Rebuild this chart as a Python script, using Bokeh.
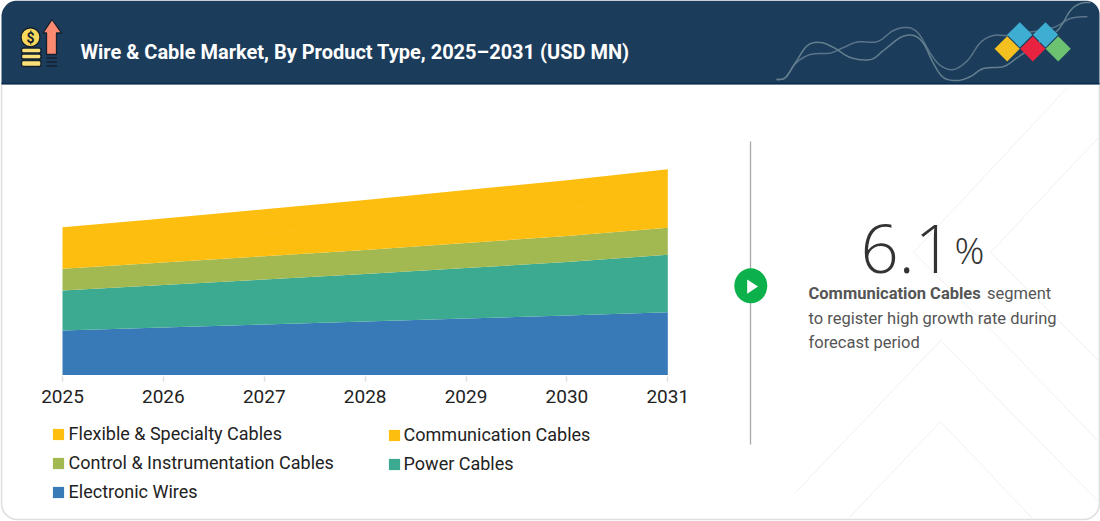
import numpy as np
from bokeh.core.properties import value
from bokeh.embed import file_html
from bokeh.models import Legend, LegendItem, LinearAxis, FixedTicker, Range1d
from bokeh.plotting import figure
from bokeh.resources import INLINE

# ---- data (USD MN, scale estimated) ----
years = [2025, 2026, 2027, 2028, 2029, 2030, 2031]
electronic_wires = [44.5, 47.5, 50.5, 53.5, 56.5, 59.5, 62.8]
power_cables = [40.0, 42.5, 45.0, 47.5, 50.5, 53.5, 57.4]
control_instrumentation = [21.7, 22.5, 23.3, 24.0, 25.0, 26.0, 27.0]
communication_cables = [20.0, 21.5, 23.0, 24.5, 26.0, 27.3, 28.6]
flexible_specialty = [21.6, 22.5, 24.0, 25.5, 27.0, 28.5, 30.0]
series_names = ["Electronic Wires", "Power Cables", "Control & Instrumentation Cables",
                "Communication Cables", "Flexible & Specialty Cables"]
series_colors = ["#3879B8", "#3BAA91", "#A1B950", "#FDBE10", "#FDBE10"]
title_text = "Wire & Cable Market, By Product Type, 2025–2031 (USD MN)"
cagr_value = "6.1"
cagr_unit = "%"
caption_bold = "Communication Cables"
caption_lines = [" segment", "to register high growth rate during", "forecast period"]

W, H = 1100, 521
FONT = "Roboto"
X0, X1 = 62.0, 667.3      # pixel columns of the first and last year
BASE = 374.5              # pixel row of the value axis zero
ppy = (X1 - X0) / (years[-1] - years[0])

p = figure(width=W, height=H, output_backend="svg", toolbar_location=None,
           x_axis_type=None, y_axis_type=None, min_border=0,
           x_range=Range1d(years[0] - X0 / ppy, years[0] + (W - X0) / ppy),
           y_range=Range1d(BASE - H, BASE))
p.outline_line_color = None
p.grid.visible = False
p.background_fill_color = "white"
p.border_fill_color = "white"
p.extra_x_ranges = {"px": Range1d(0, W)}
p.extra_y_ranges = {"px": Range1d(H, 0)}
PX = dict(x_range_name="px", y_range_name="px")


def arc(cx, cy, r, a0, a1, n=14):
    t = np.radians(np.linspace(a0, a1, n))
    return list(cx + r * np.cos(t)), list(cy + r * np.sin(t))


def smooth(pts, n=12):
    a = np.array([pts[0]] + pts + [pts[-1]], dtype=float)
    out = []
    for i in range(1, len(a) - 2):
        for t in np.linspace(0, 1, n, endpoint=False):
            out.append(0.5 * (2 * a[i] + (a[i + 1] - a[i - 1]) * t
                              + (2 * a[i - 1] - 5 * a[i] + 4 * a[i + 1] - a[i + 2]) * t ** 2
                              + (3 * a[i] - a[i - 1] - 3 * a[i + 1] + a[i + 2]) * t ** 3))
    out.append(a[-2])
    out = np.array(out)
    return list(out[:, 0]), list(out[:, 1])


def text(x, y, s, size, color, style="normal", font=FONT, align="left", baseline="alphabetic"):
    p.text([x], [y], text=[s], text_font=value(font), text_font_size=f"{size}px", text_color=color,
           text_font_style=style, text_align=align, text_baseline=baseline, **PX)


# card outline
ax1, ay1 = arc(1099 - 16, 519 - 16, 16, 0, 90)
ax2, ay2 = arc(1 + 16, 519 - 16, 16, 90, 180)
p.line([1099] + ax1 + ax2 + [1], [84] + ay1 + ay2 + [84],
       line_color="#DEDEDE", line_width=1.6, **PX)

# faint background chevrons
for xs, ys in [([1067, 913, 997, 1097], [87, 252, 336, 440]),
               ([1098, 990, 1073, 1098], [137, 252, 335, 360]),
               ([795, 940, 1097], [492, 340, 500]),
               ([848, 940, 1032], [518, 421, 518])]:
    p.line(xs, ys, line_color="#F0F0F0", line_width=1, **PX)

# header band
hx1, hy1 = arc(1 + 16, 16, 16, 180, 270)
hx2, hy2 = arc(1099 - 14, 14, 14, 270, 360)
p.patch([1] + hx1 + hx2 + [1099], [84] + hy1 + hy2 + [84], fill_color="#1C3C5C", line_color=None, **PX)
p.line([1, 1099], [83, 83], line_color="#0E2C4E", line_width=1.6, **PX)

# header wave decoration
wave_a = [(776, 79), (785, 77), (795, 63), (807, 55), (818, 53), (830, 52.5), (843, 47), (857, 41.5),
          (877, 41), (893, 30), (907, 27), (918, 33), (930, 53), (940, 65), (953, 69), (967, 60),
          (980, 42), (993, 35), (1007, 35), (1027, 32), (1053, 27), (1070, 18), (1087, 16)]
wave_b = [(776, 79), (785, 77), (795, 62), (807, 45), (820, 42), (833, 47), (850, 57), (870, 59),
          (883, 50), (900, 37), (913, 35), (923, 43), (933, 63), (943, 77), (957, 80), (970, 76),
          (983, 68), (1003, 66), (1017, 57), (1037, 43), (1057, 30), (1070, 10), (1080, 3), (1090, 2)]
for w, c in [(wave_a, "#5A7488"), (wave_b, "#64808F")]:
    wx, wy = smooth(w)
    p.line(wx, wy, line_color=c, line_width=1.5, **PX)

# diamonds
for cx, cy, c in [(1006.7, 48.3, "#F4C020"), (1019.3, 34.3, "#3DAED2"), (1045, 34.3, "#3DAED2"),
                  (1032.3, 48.3, "#E8233F"), (1057.7, 48.3, "#6CC270")]:
    d = 12.6
    p.patch([cx - d, cx, cx + d, cx], [cy, cy - d, cy, cy + d], fill_color=c, line_color=None, **PX)

# header icon
DARK = "#14202E"
for y0, y1 in [(47.5, 52.5), (53.5, 58.5), (60, 66)]:
    p.quad(left=[21], right=[40.5], top=[y0], bottom=[y1], fill_color="#F8DF78", line_color=DARK,
           line_width=1.4, border_radius=2, **PX)
p.ellipse([30], [36.7], width=19, height=19, fill_color="#F8D95C", line_color=DARK, line_width=1.4, **PX)
text(30, 37, "$", 14, DARK, style="bold", align="center", baseline="middle")
p.patch([51.5, 42.5, 46, 46, 56, 56, 61], [19, 32.5, 32.5, 54, 54, 32.5, 32.5],
        fill_color="#FB8A70", line_color=DARK, line_width=1.3, **PX)
for yy in [57.5, 61.5, 65.5]:
    p.line([46, 56.5], [yy, yy], line_color=DARK, line_width=1.4, **PX)

text(80, 51, title_text, 20, "white", style="bold")

# stacked areas
source = dict(year=years)
all_series = [electronic_wires, power_cables, control_instrumentation,
              communication_cables, flexible_specialty]
for name, vals in zip(series_names, all_series):
    source[name] = vals
areas = p.varea_stack(series_names, x="year", color=series_colors, source=source)
by_name = dict(zip(series_names, areas))
# the two yellow bands share a colour: close the hairline between them
p.line(years, list(np.sum(all_series[:4], axis=0)), line_color=series_colors[3], line_width=1)

axis = LinearAxis(ticker=FixedTicker(ticks=years), fixed_location=-1.5)
axis.major_label_overrides = {y: str(y) for y in years}
axis.axis_line_color = None
axis.major_tick_in = 0
axis.major_tick_out = 5
axis.minor_tick_line_color = None
axis.major_tick_line_color = "#DDDDDD"
axis.major_tick_line_width = 1.5
axis.major_label_text_font = FONT
axis.major_label_text_font_size = "19px"
axis.major_label_text_color = "#222222"
axis.major_label_standoff = 8
p.add_layout(axis, "below")


def legend(names, x, y, standoff):
    lg = Legend(items=[LegendItem(label=n, renderers=[by_name[n]]) for n in names],
                location=(x, y), orientation="vertical", padding=0, margin=0, spacing=8,
                glyph_width=14, glyph_height=14, label_height=20, label_standoff=standoff,
                label_text_font=FONT, label_text_font_size="18px", label_text_color="#222222",
                background_fill_alpha=0, border_line_color=None)
    p.add_layout(lg, "center")


legend(["Flexible & Specialty Cables", "Control & Instrumentation Cables", "Electronic Wires"], 50.6, 19, 4)
legend(["Communication Cables", "Power Cables"], 386.6, 47, 3)

# divider and marker
p.line([750, 750], [141, 444], line_color="#A8A8A8", line_width=1.3, **PX)
p.ellipse([750.3], [285.3], width=33, height=35, fill_color="#0DB14B", line_color=None, **PX)
p.patch([746.7, 757.5, 746.7], [279, 286, 293.3], fill_color="white", line_color=None, **PX)

# call-out
text(860, 248.5, cagr_value, 67, "#333333", font="Open Sans Light")
text(954, 249, cagr_unit, 37, "#333333", font="Open Sans Light")
CAP = "#555555"
text(808, 293, caption_bold, 16.5, CAP, style="bold")
text(986.5, 293, caption_lines[0], 16.5, CAP)
text(808, 317.7, caption_lines[1], 16.5, CAP)
text(808, 342.3, caption_lines[2], 16.5, CAP)

open("out.html", "w").write(file_html(p, INLINE))
